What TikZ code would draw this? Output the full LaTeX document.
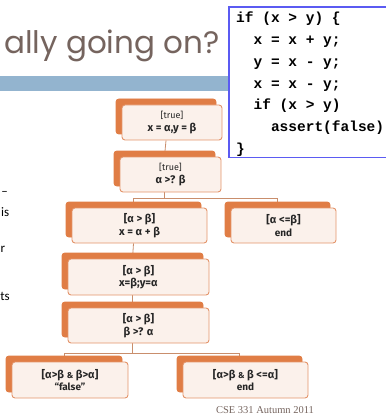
\documentclass[tikz,border=0pt]{standalone}
\usepackage{fontspec}
\setmainfont{Fira Sans}
\newfontfamily\titlefont{Poppins}
\newfontfamily\codefont{Liberation Mono}
\newfontfamily\footfont{Liberation Serif}
\newfontfamily\sidefont{Carlito}
\usetikzlibrary{shadows,backgrounds}

\definecolor{boxorange}{HTML}{E07D45}
\definecolor{boxedge}{HTML}{E3946A}
\definecolor{boxfill}{HTML}{FBF1EB}
\definecolor{linkbrown}{HTML}{C98E6C}
\definecolor{titlegrey}{HTML}{75645E}
\definecolor{barblue}{HTML}{93B4CF}
\definecolor{codeblue}{HTML}{5B5BF2}

\begin{document}
\begin{tikzpicture}[
    x=1pt, y=-1pt,
    state/.style  = {draw=boxedge, fill=boxfill, rounded corners=3pt,
                     line width=0.9pt, align=center, inner sep=1pt,
                     minimum height=35pt, text=black!85,
                     font=\fontsize{11}{12.5}\selectfont\bfseries,
                     general shadow={fill=boxorange, draw=boxorange,
                                     shadow xshift=-6pt, shadow yshift=6pt}},
    link/.style   = {draw=linkbrown, line width=0.8pt},
    codetxt/.style = {font=\codefont\bfseries\fontsize{14.5}{21.7}\selectfont,
                      align=left, inner sep=0pt, anchor=north west},
    side/.style   = {font=\sidefont\fontsize{13}{14}\selectfont, inner sep=0pt},
]
\useasboundingbox (0,0) rectangle (385,414);

% ============================================================
%  SLIDE HEADER  --  title and blue bar
% ============================================================
\node[font=\titlefont\fontsize{31}{33}\selectfont, text=titlegrey,
      anchor=base west, inner sep=0pt] (title) at (4,54) {ally going on?};
\fill[barblue] (0,76) rectangle (229,91);

% ============================================================
%  CODE BOX  (top right, runs off the slide edge)
% ============================================================
\fill[white] (229,7) rectangle (385,157.5);
\draw[codeblue, line width=1.3pt] (386,7) -- (229,7) -- (229,157.5) -- (386,157.5);
\node[codetxt] (code) at (236,12)
    {if (x > y) \{\\
     \phantom{xx}x = x + y;\\
     \phantom{xx}y = x - y;\\
     \phantom{xx}x = x - y;\\
     \phantom{xx}if (x > y)\\
     \phantom{xxxx}assert(false)\\
     \}};

% ============================================================
%  LEFT COLUMN  --  clipped bullet text
% ============================================================
\node[side, anchor=base east] (s1) at (8,195)   {–};
\node[side, anchor=base east] (s2) at (9.5,216) {is};
\node[side, anchor=base west] (s3) at (0.5,252) {r};
\node[side, anchor=base east] (s4) at (10,300)  {ts};

% ============================================================
%  SYMBOLIC EXECUTION TREE
% ============================================================
\node[state, minimum width=100pt] (init)  at (172,122.5)
    {{\fontsize{9}{10}\selectfont\mdseries [true]}\\x = α,y = β};
\node[state, minimum width=101pt] (test1) at (170.5,174.5)
    {{\fontsize{9}{10}\selectfont\mdseries [true]}\\α >? β};
\node[state, minimum width=135pt] (swapa) at (139.5,225.5)
    {[α > β]\\x = α + β};
\node[state, minimum width=105pt] (endA)  at (283.5,225.5)
    {[α <=β]\\{\fontsize{10}{11}\selectfont end}};
\node[state, minimum width=141pt, minimum height=36pt] (swapb) at (138.5,277)
    {[α > β]\\x=β;y=α};
\node[state, minimum width=141pt] (test2) at (138.5,325.5)
    {[α > β]\\β >? α};
\node[state, minimum width=116pt, minimum height=36pt] (fail)  at (70,380)
    {[α>β {\fontsize{8.5}{10}\selectfont\&} β>α]\\{\fontsize{10}{11}\selectfont “false”}};
\node[state, minimum width=125pt, minimum height=36pt] (endB)  at (245.5,380)
    {[α>β {\fontsize{8.5}{10}\selectfont\&} β <=α]\\{\fontsize{10}{11}\selectfont end}};

% connectors run from back-box centre to back-box centre
\begin{scope}[on background layer]
\draw[link] ([xshift=-6pt]init.south) -- ([xshift=-6pt]test1.north);
\draw[link] ([xshift=-6pt]test1.south) -- ++(0,6) coordinate (fork1);
\draw[link] (fork1) -| ([xshift=-6pt]swapa.north);
\draw[link] (fork1) -| ([xshift=-6pt]endA.north);
\draw[link] ([xshift=-6pt]swapa.south) -- ([xshift=-6pt]swapb.north);
\draw[link] ([xshift=-6pt]swapb.south) -- ([xshift=-6pt]test2.north);
\draw[link] ([xshift=-6pt]test2.south) -- ++(0,10) coordinate (fork2);
\draw[link] (fork2) -| ([xshift=-6pt]fail.north);
\draw[link] (fork2) -| ([xshift=-6pt]endB.north);
\end{scope}

% ============================================================
%  FOOTER
% ============================================================
\node[font=\footfont\fontsize{10.5}{12}\selectfont, text=titlegrey,
      anchor=base, inner sep=0pt] (foot) at (265,413) {CSE 331 Autumn 2011};

\end{tikzpicture}
\end{document}
